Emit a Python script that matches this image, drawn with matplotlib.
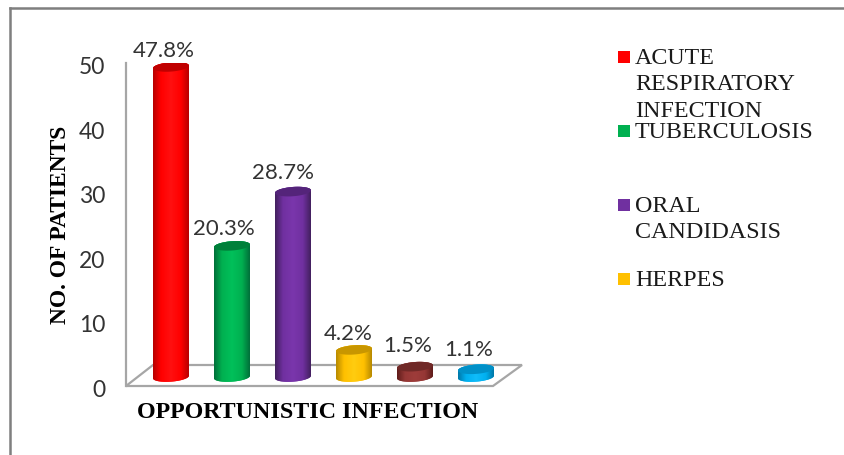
import numpy as np
import matplotlib
matplotlib.use("Agg")
import matplotlib.pyplot as plt
from matplotlib.colors import LinearSegmentedColormap
from matplotlib.patches import Polygon, Rectangle, PathPatch
from matplotlib.path import Path
from matplotlib.transforms import ScaledTranslation

# data
infections = ["ACUTE\nRESPIRATORY\nINFECTION", "TUBERCULOSIS", "ORAL\nCANDIDASIS", "HERPES"]
patients = [48.0, 20.3, 28.7, 4.2, 1.6, 1.2]
pct_labels = ["47.8%", "20.3%", "28.7%", "4.2%", "1.5%", "1.1%"]
yticks = [0, 10, 20, 30, 40, 50]

# dark edge, mid, light centre, top cap
bar_colors = [("#B80000", "#FF0000", "#FF1010", "#C00000"),
              ("#00703A", "#00B050", "#00C05A", "#00803A"),
              ("#43205F", "#7030A0", "#7A36AC", "#54247A"),
              ("#B88A00", "#FFC000", "#FFCC10", "#C89600"),
              ("#5F1D1B", "#953735", "#9E3C3A", "#702927"),
              ("#0078A8", "#00B0F0", "#10BCFA", "#0090C8")]

W, H = 844, 456
LEFT, RIGHT, TOP, BOTTOM = 126, 522, 64, 387
X0, DX = 171, 61
BAR_W = 36 / DX / 2       # half width, category units
DEPTH = 9 / 6.46          # bars stand back from the front of the floor
CAP = 0.72                # half height of the cap, y units
TILT = 0.20               # the caps lean up to the right
GREY = "#A6A6A6"
SERIF = "Liberation Serif"

# label nudges, pixels, the labels sit left of the bars in the original
label_dx = [-7, -8, -10, -6, -7, -7]
label_dy = [0, 1, 2, 0, 5, 3]

fig = plt.figure(figsize=(W / 100, H / 100), dpi=100)
ax = fig.add_axes([LEFT / W, 1 - BOTTOM / H, (RIGHT - LEFT) / W, (BOTTOM - TOP) / H])
ax.set_xlim((LEFT - X0) / DX, (RIGHT - X0) / DX)
ax.set_ylim(0, 50)
ax.patch.set_visible(False)
for s in ["top", "right", "bottom"]:
    ax.spines[s].set_visible(False)
ax.spines["left"].set_color(GREY)
ax.spines["left"].set_linewidth(1.6)
ax.set_xticks([])
ax.set_yticks(yticks)
ax.tick_params(axis="y", length=0, pad=15, labelsize=16.5, labelcolor="#333333")
tick_shift = ScaledTranslation(0, -1.5 / 100, fig.dpi_scale_trans)
for t in ax.get_yticklabels():
    t.set_fontfamily("Lato")
    t.set_transform(t.get_transform() + tick_shift)

# floor
xl, xr = ax.get_xlim()
front_r = xl + (493 - LEFT) / DX
back_l = xl + (153 - LEFT) / DX
back_y = (387 - 366) / 6.46
ax.add_patch(Polygon([(xl, 0), (front_r, 0), (xr, back_y), (back_l, back_y)], closed=True,
                     fill=False, edgecolor=GREY, linewidth=1.6, clip_on=False, zorder=1))


def ring(cx, cy, t):
    return np.column_stack([cx + BAR_W * np.cos(t), cy + CAP * np.sin(t) + TILT * np.cos(t)])


for i, val in enumerate(patients):
    dark, mid, light, cap = bar_colors[i]
    base = DEPTH
    top = DEPTH + val
    # body, round bottom edge
    lower = ring(i, base, np.linspace(np.pi, 2 * np.pi, 40))
    upper = ring(i, top, np.linspace(0, np.pi, 40))
    outline = np.vstack([lower, upper, lower[:1]])
    body = PathPatch(Path(outline, closed=True), facecolor=mid, edgecolor="none", zorder=3)
    ax.add_patch(body)
    cmap = LinearSegmentedColormap.from_list("cyl", [(0, dark), (0.22, mid), (0.5, light), (0.78, mid), (1, dark)])
    im = ax.imshow(np.linspace(0, 1, 80)[None, :], cmap=cmap, aspect="auto", zorder=3,
                   extent=(i - BAR_W, i + BAR_W, base - 2, top + 2))
    im.set_clip_path(body)
    # cap
    ax.add_patch(Polygon(ring(i, top, np.linspace(0, 2 * np.pi, 80)), closed=True,
                         facecolor=cap, edgecolor="none", zorder=4))
    ax.annotate(pct_labels[i], (i, top + 1.1), xytext=(label_dx[i] * 0.72, label_dy[i] * 0.72),
                textcoords="offset points", ha="center", va="bottom", fontsize=16,
                family="Lato", color="#333333", zorder=5, annotation_clip=False)

ax.set_xlim(xl, xr)
ax.set_ylim(0, 50)

# axis titles
fig.text(60 / W, 1 - 225 / H, "NO. OF PATIENTS", rotation=90, ha="center", va="center",
         family=SERIF, fontweight="bold", fontsize=16.9, color="black")
fig.text(308 / W, 1 - 413 / H, "OPPORTUNISTIC INFECTION", ha="center", va="center",
         family=SERIF, fontweight="bold", fontsize=17.3, color="black")

# legend, spaced by hand like the original
legend_y = [52, 126, 200, 274]
legend_cols = ["#FF0000", "#00B050", "#7030A0", "#FFC000"]
for label, y, col in zip(infections, legend_y, legend_cols):
    fig.add_artist(Rectangle((618 / W, 1 - (y + 12) / H), 12 / W, 12 / H, transform=fig.transFigure,
                             facecolor=col, edgecolor="none"))
    fig.text(635 / W, 1 - (y - 4) / H, label, ha="left", va="top", family=SERIF, fontsize=17.3,
             color="#1a1a1a", linespacing=1.34)

# chart frame
frame = "#7F7F7F"
fig.add_artist(plt.Line2D([10 / W, 10 / W], [0, 1 - 9 / H], color=frame, linewidth=1.8))
fig.add_artist(plt.Line2D([10 / W, 1], [1 - 9 / H, 1 - 9 / H], color=frame, linewidth=1.8))

fig.savefig("out.png", dpi=100)
